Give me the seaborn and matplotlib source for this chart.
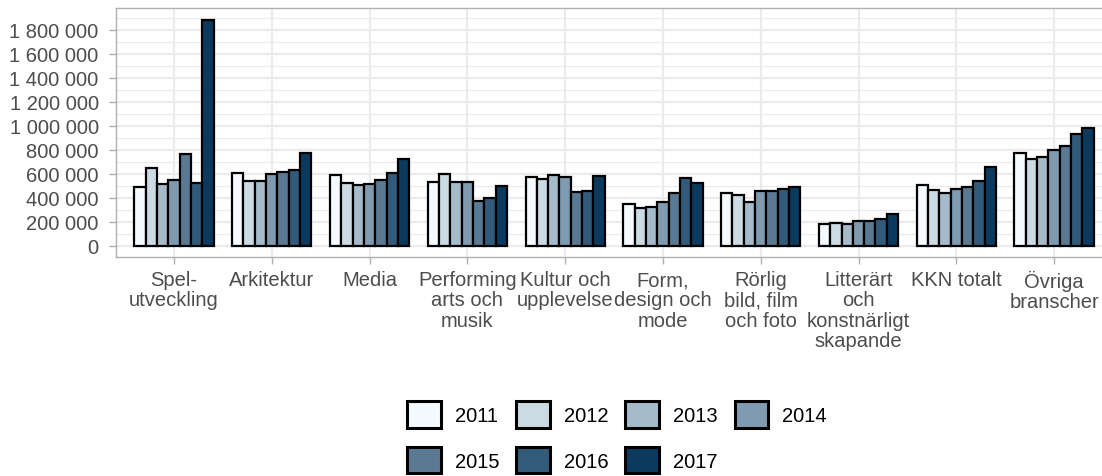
import matplotlib
matplotlib.use("Agg")
import matplotlib.pyplot as plt
import matplotlib.ticker as mticker
from matplotlib.patches import Patch
import seaborn as sns
import pandas as pd

categories = ["Spel-\nutveckling", "Arkitektur", "Media", "Performing\narts och\nmusik",
              "Kultur och\nupplevelse", "Form,\ndesign och\nmode", "Rörlig\nbild, film\noch foto",
              "Litterärt\noch\nkonstnärligt\nskapande", "KKN totalt", "Övriga\nbranscher"]
years = ["2011", "2012", "2013", "2014", "2015", "2016", "2017"]

v2011 = [494000, 611000, 592000, 536000, 575000, 350000, 444000, 183000, 511000, 778000]
v2012 = [647000, 544000, 528000, 600000, 558000, 314000, 428000, 192000, 467000, 722000]
v2013 = [515000, 544000, 508000, 531000, 594000, 322000, 369000, 183000, 444000, 744000]
v2014 = [550000, 597000, 514000, 531000, 575000, 369000, 458000, 206000, 472000, 800000]
v2015 = [764000, 619000, 550000, 372000, 447000, 442000, 456000, 206000, 494000, 836000]
v2016 = [522000, 633000, 608000, 397000, 456000, 564000, 475000, 225000, 542000, 931000]
v2017 = [1886000, 775000, 725000, 503000, 583000, 528000, 489000, 269000, 661000, 983000]

colors = ["#F5FAFE", "#CCDAE3", "#A6BBC9", "#809BB0", "#5A7A94", "#325B7B", "#0B3A5E"]

series = [v2011, v2012, v2013, v2014, v2015, v2016, v2017]
rows = []
for y, vals in zip(years, series):
    for c, v in zip(categories, vals):
        rows.append({"kategori": c, "år": y, "värde": v})
df = pd.DataFrame(rows)

sns.set_theme(style="white")
plt.rcParams["font.family"] = ["Liberation Sans", "DejaVu Sans"]

W, H = 1102, 477
fig = plt.figure(figsize=(W / 100, H / 100), dpi=100)
left_px, right_px, top_px, bottom_px = 116, 1102, 9, 258
ax = fig.add_axes([left_px / W, 1 - bottom_px / H, (right_px - left_px) / W, (bottom_px - top_px) / H])

sns.barplot(data=df, x="kategori", y="värde", hue="år", order=categories, hue_order=years,
            palette=colors, width=0.81, gap=0, edgecolor="black", linewidth=1.6,
            saturation=1, legend=False, ax=ax, zorder=3, errorbar=None)

ax.set_xlim(-0.593, 9.49)
ax.set_ylim(-92000, 1983000)
ax.yaxis.set_major_locator(mticker.MultipleLocator(200000))
ax.yaxis.set_minor_locator(mticker.MultipleLocator(100000))
ax.yaxis.set_major_formatter(mticker.FuncFormatter(lambda v, p: f"{int(v):,}".replace(",", " ")))

ax.grid(True, which="major", axis="both", color="#ebebeb", linewidth=1.6, zorder=0)
ax.grid(True, which="minor", axis="y", color="#ebebeb", linewidth=0.8, zorder=0)
ax.set_axisbelow(True)

for s in ["left", "top", "bottom"]:
    ax.spines[s].set_color("#b0b0b0")
    ax.spines[s].set_linewidth(1.0)
ax.spines["right"].set_visible(False)

ax.tick_params(axis="both", which="major", length=5, width=1, color="#b0b0b0",
               labelcolor="#4d4d4d", labelsize=14.5)
ax.tick_params(axis="y", which="major", pad=7.5)
ax.tick_params(axis="x", which="major", pad=4.5)
ax.tick_params(axis="y", which="minor", length=0)
ax.tick_params(left=True, bottom=True)
for lab in ax.get_xticklabels():
    lab.set_linespacing(1.08)
    lab.set_verticalalignment("top")

ax.set_xlabel("")
ax.set_ylabel("")

handles = {y: Patch(facecolor=c, edgecolor="black", linewidth=2.2, label=y) for c, y in zip(colors, years)}
leg_order = ["2011", "2015", "2012", "2016", "2013", "2017", "2014"]
leg = fig.legend(handles=[handles[y] for y in leg_order], ncol=4, loc="upper center",
                 bbox_to_anchor=(617 / W, 1 - 392 / H), frameon=False,
                 fontsize=14.5, handlelength=1.65, handleheight=1.65,
                 handletextpad=0.7, columnspacing=0.85, labelspacing=0.95, borderpad=0)
for t in leg.get_texts():
    t.set_color("black")

fig.savefig("out.png", dpi=100)
